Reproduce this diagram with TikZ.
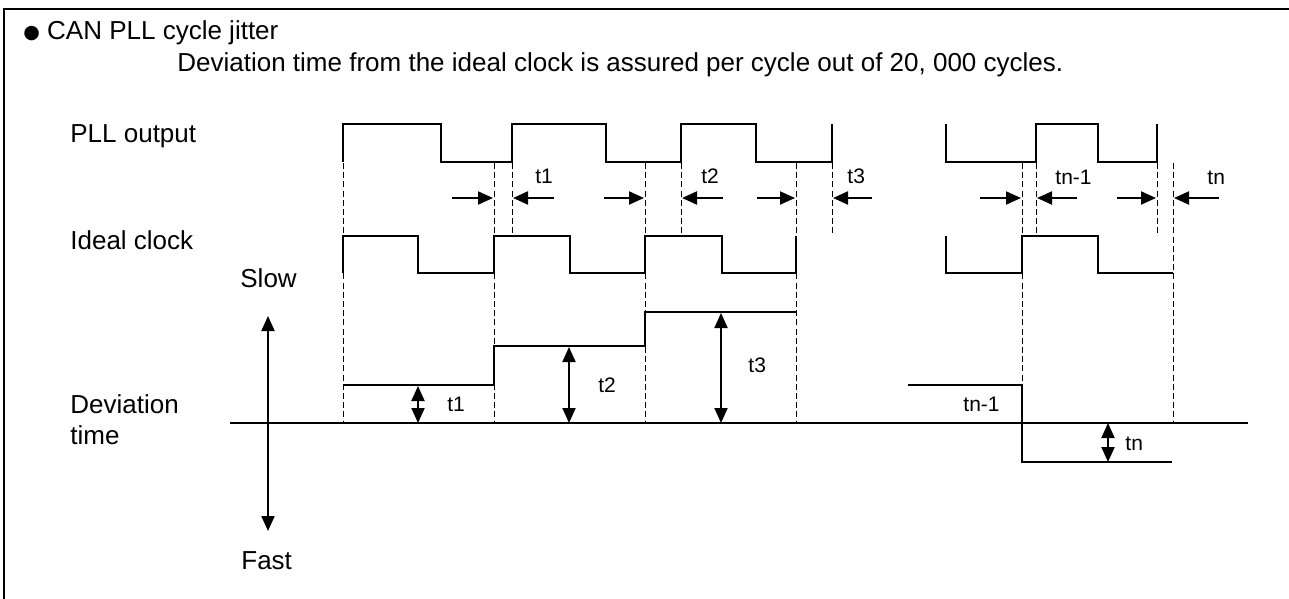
\documentclass[tikz,border=0pt]{standalone}
\usepackage{fontspec}
\setmainfont{Liberation Sans}
\newfontfamily\symfont{DejaVu Sans}
\usetikzlibrary{arrows.meta}
\begin{document}
\begin{tikzpicture}[
    x=0.5pt, y=-0.5pt,
    wave/.style={line width=1.2pt, line join=miter},
    guide/.style={line width=0.5pt, dash pattern=on 3pt off 1.6pt},
    gap/.style={line width=1pt, -{Triangle[length=7.5pt,width=6.5pt]}},
    dev/.style={line width=1pt,
                {Triangle[length=7.5pt,width=6.5pt]}-{Triangle[length=7.5pt,width=6.5pt]}},
    txt/.style={anchor=base west, inner sep=0pt, font=\fontsize{13}{15}\selectfont},
    lbl/.style={anchor=base west, inner sep=0pt, font=\fontsize{10.5}{12}\selectfont}]
  \useasboundingbox (0,0) rectangle (1289,599);
  \draw[line width=0.8pt] (4,599) -- (4,9) -- (1289,9);

  \node[txt] (title) at (23,40)
    {\raisebox{1pt}{\symfont\fontsize{9.5}{10}\selectfont ●}\ CAN PLL cycle jitter};
  \node[txt] (intro) at (177,72)
    {Deviation time from the ideal clock is assured per cycle out of 20, 000 cycles.};
  \node[txt] (pll)   at (70,142) {PLL output};
  \node[txt] (ideal) at (70,249) {Ideal clock};
  \node[txt] (slow)  at (240,287) {Slow};
  \node[txt] (devA)  at (70,413) {Deviation};
  \node[txt] (devB)  at (70,444) {time};
  \node[txt] (fast)  at (241,569) {Fast};

  % clocks
  \draw[wave] (343,162) -- (343,124) -- (441,124) -- (441,162) -- (512,162) -- (512,124)
    -- (606,124) -- (606,162) -- (681,162) -- (681,124) -- (756,124) -- (756,162)
    -- (832,162) -- (832,124);
  \draw[wave] (946,124) -- (946,162) -- (1036,162) -- (1036,124) -- (1098,124)
    -- (1098,162) -- (1157,162) -- (1157,124);
  \draw[wave] (343,273) -- (343,236) -- (418,236) -- (418,273) -- (494,273) -- (494,236)
    -- (570,236) -- (570,273) -- (645,273) -- (645,236) -- (722,236) -- (722,273)
    -- (796,273) -- (796,236);
  \draw[wave] (946,236) -- (946,273) -- (1022,273) -- (1022,236) -- (1098,236)
    -- (1098,273) -- (1173,273);

  \foreach \x in {343,494,645,796,1173}
    \draw[guide] (\x,163) -- (\x,423);
  \foreach \x in {512,681,832,1036,1157}
    \draw[guide] (\x,163) -- (\x,236);
  \draw[guide] (1022,163) -- (1022,385);

  % edge gaps
  \foreach \a/\b/\c/\d in {452/493/554/513, 604/644/723/682, 757/795/872/833,
                           980/1021/1077/1037, 1117/1156/1219/1174}{
    \draw[gap] (\a,198) -- (\b,198);
    \draw[gap] (\c,198) -- (\d,198);
  }
  \node[lbl] (g1) at (535,183) {t1};
  \node[lbl] (g2) at (701,183) {t2};
  \node[lbl] (g3) at (847,183) {t3};
  \node[lbl] (gm) at (1055,184) {tn-1};
  \node[lbl] (gn) at (1207,184) {tn};

  % deviation
  \draw[wave] (230,423) -- (1248,423);
  \draw[dev] (268,316) -- (268,531);
  \draw[wave] (344,385) -- (494,385) -- (494,346) -- (645,346) -- (645,312) -- (796,312);
  \draw[wave] (908,385) -- (1022,385) -- (1022,462) -- (1172,462);
  \draw[dev] (418,386) -- (418,423);
  \draw[dev] (569,347) -- (569,423);
  \draw[dev] (721,313) -- (721,423);
  \draw[dev] (1108,423) -- (1108,462);
  \node[lbl] (d1) at (447,411) {t1};
  \node[lbl] (d2) at (598,392) {t2};
  \node[lbl] (d3) at (748,372) {t3};
  \node[lbl] (dm) at (963,411) {tn-1};
  \node[lbl] (dn) at (1125,450) {tn};
\end{tikzpicture}
\end{document}
